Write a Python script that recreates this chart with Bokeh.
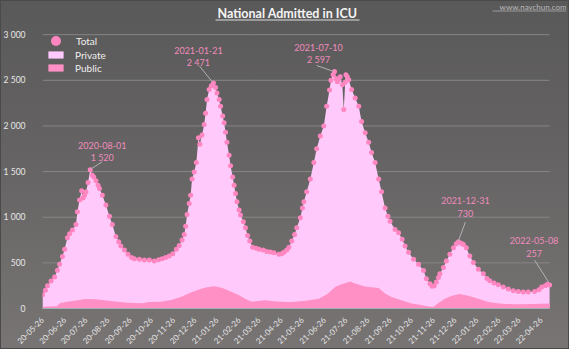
import math
import pandas as pd
from bokeh.plotting import figure
from bokeh.models import (ColumnDataSource, FixedTicker, DatetimeTickFormatter,
                          CustomJSTickFormatter, Legend, LegendItem, Label,
                          BoxAnnotation, Range1d)
from bokeh.embed import file_html
from bokeh.resources import INLINE

FONT = "Lato"

# ---------------- data ----------------
total_dates = [
    "2020-05-26", "2020-05-30", "2020-06-02", "2020-06-07", "2020-06-12", "2020-06-16",
    "2020-06-19", "2020-06-23", "2020-06-26", "2020-06-30", "2020-07-03", "2020-07-07",
    "2020-07-12", "2020-07-14", "2020-07-17", "2020-07-20", "2020-07-22", "2020-07-24",
    "2020-07-26", "2020-07-29", "2020-08-01", "2020-08-04", "2020-08-06", "2020-08-09",
    "2020-08-12", "2020-08-14", "2020-08-18", "2020-08-23", "2020-08-28", "2020-09-01",
    "2020-09-06", "2020-09-10", "2020-09-13", "2020-09-18", "2020-09-23", "2020-09-28",
    "2020-10-02", "2020-10-09", "2020-10-16", "2020-10-23", "2020-10-30", "2020-11-05",
    "2020-11-10", "2020-11-15", "2020-11-20", "2020-11-25", "2020-11-30", "2020-12-04",
    "2020-12-08", "2020-12-11", "2020-12-13", "2020-12-15", "2020-12-18", "2020-12-20",
    "2020-12-22", "2020-12-25", "2020-12-28", "2020-12-31", "2021-01-02", "2021-01-05",
    "2021-01-08", "2021-01-10", "2021-01-12", "2021-01-15", "2021-01-18", "2021-01-21",
    "2021-01-24", "2021-01-26", "2021-01-29", "2021-01-31", "2021-02-03", "2021-02-05",
    "2021-02-07", "2021-02-09", "2021-02-12", "2021-02-14", "2021-02-17", "2021-02-19",
    "2021-02-21", "2021-02-23", "2021-02-26", "2021-02-28", "2021-03-04", "2021-03-07",
    "2021-03-10", "2021-03-13", "2021-03-17", "2021-03-22", "2021-03-26", "2021-04-01",
    "2021-04-06", "2021-04-11", "2021-04-16", "2021-04-23", "2021-04-27", "2021-04-30",
    "2021-05-04", "2021-05-07", "2021-05-11", "2021-05-15", "2021-05-18", "2021-05-23",
    "2021-05-26", "2021-05-28", "2021-06-01", "2021-06-06", "2021-06-11", "2021-06-15",
    "2021-06-20", "2021-06-25", "2021-06-29", "2021-07-03", "2021-07-05", "2021-07-08",
    "2021-07-10", "2021-07-12", "2021-07-14", "2021-07-16", "2021-07-18", "2021-07-21",
    "2021-07-23", "2021-07-25", "2021-07-26", "2021-07-28", "2021-07-30", "2021-08-03",
    "2021-08-08", "2021-08-13", "2021-08-17", "2021-08-22", "2021-08-27", "2021-08-31",
    "2021-09-05", "2021-09-10", "2021-09-14", "2021-09-19", "2021-09-23", "2021-09-26",
    "2021-10-03", "2021-10-08", "2021-10-13", "2021-10-17", "2021-10-22", "2021-10-29",
    "2021-11-05", "2021-11-12", "2021-11-16", "2021-11-21", "2021-11-24", "2021-11-27",
    "2021-11-30", "2021-12-03", "2021-12-05", "2021-12-10", "2021-12-14", "2021-12-19",
    "2021-12-24", "2021-12-28", "2021-12-31", "2022-01-04", "2022-01-07", "2022-01-11",
    "2022-01-16", "2022-01-21", "2022-01-28", "2022-02-04", "2022-02-09", "2022-02-13",
    "2022-02-19", "2022-02-25", "2022-03-04", "2022-03-11", "2022-03-18", "2022-03-25",
    "2022-04-01", "2022-04-08", "2022-04-17", "2022-04-23", "2022-04-27", "2022-05-02",
    "2022-05-05", "2022-05-08",
]
total_values = [
    150, 200, 250, 300, 345, 420,
    486, 570, 650, 775, 820, 860,
    920, 1060, 1190, 1290, 1210, 1240,
    1275, 1380, 1520, 1460, 1440, 1400,
    1350, 1315, 1240, 1135, 1010, 920,
    790, 730, 685, 640, 595, 560,
    545, 540, 530, 530, 520, 535,
    545, 560, 575, 600, 650, 690,
    750, 810, 900, 1030, 1150, 1240,
    1420, 1495, 1600, 1870, 1800, 1900,
    2015, 2140, 2290, 2400, 2440, 2471,
    2420, 2360, 2290, 2215, 2110, 2035,
    1930, 1820, 1680, 1565, 1440, 1350,
    1260, 1170, 1080, 1025, 950, 885,
    800, 740, 670, 660, 650, 640,
    625, 620, 610, 595, 600, 615,
    640, 670, 740, 810, 885, 995,
    1100, 1170, 1280, 1420, 1600, 1750,
    1890, 2000, 2215, 2395, 2500, 2560,
    2597, 2520, 2485, 2510, 2540, 2450,
    2180, 2480, 2560, 2540, 2505, 2400,
    2305, 2215, 2050, 1925, 1820, 1710,
    1600, 1420, 1280, 1100, 1010, 955,
    865, 830, 760, 685, 615, 540,
    485, 415, 325, 270, 245, 250,
    290, 340, 380, 450, 520, 595,
    665, 710, 730, 715, 700, 665,
    575, 505, 430, 380, 330, 305,
    280, 260, 235, 215, 195, 185,
    180, 180, 185, 205, 235, 250,
    265, 257,
]

public_dates = [
    "2020-05-26", "2020-06-05", "2020-06-15", "2020-06-20", "2020-06-30", "2020-07-10",
    "2020-07-25", "2020-08-09", "2020-08-24", "2020-09-08", "2020-09-23", "2020-10-13",
    "2020-10-23", "2020-11-08", "2020-11-24", "2020-12-07", "2020-12-22", "2021-01-03",
    "2021-01-10", "2021-01-22", "2021-01-31", "2021-02-07", "2021-02-16", "2021-02-26",
    "2021-03-07", "2021-03-16", "2021-03-27", "2021-04-04", "2021-04-16", "2021-05-02",
    "2021-05-11", "2021-05-31", "2021-06-18", "2021-06-30", "2021-07-11", "2021-07-20",
    "2021-08-01", "2021-08-09", "2021-08-22", "2021-09-03", "2021-09-10", "2021-09-19",
    "2021-09-28", "2021-10-12", "2021-10-26", "2021-11-07", "2021-11-21", "2021-11-26",
    "2021-12-03", "2021-12-12", "2021-12-22", "2022-01-01", "2022-01-14", "2022-01-28",
    "2022-02-10", "2022-02-20", "2022-03-07", "2022-03-25", "2022-04-16", "2022-05-08",
]
public_values = [
    20, 22, 25, 60, 75, 85,
    105, 100, 88, 75, 62, 58,
    70, 75, 97, 130, 180, 215,
    230, 245, 230, 212, 180, 145,
    105, 75, 85, 90, 80, 72,
    72, 85, 108, 160, 235, 265,
    295, 270, 240, 230, 225, 165,
    126, 90, 55, 40, 20, 18,
    60, 108, 140, 160, 140, 108,
    75, 60, 50, 47, 50, 55,
]

tick_dates = [
    "2020-05-26", "2020-06-26", "2020-07-26", "2020-08-26", "2020-09-26", "2020-10-26",
    "2020-11-26", "2020-12-26", "2021-01-26", "2021-02-26", "2021-03-26", "2021-04-26",
    "2021-05-26", "2021-06-26", "2021-07-26", "2021-08-26", "2021-09-26", "2021-10-26",
    "2021-11-26", "2021-12-26", "2022-01-26", "2022-02-26", "2022-03-26", "2022-04-26",
]
y_ticks = [0, 500, 1000, 1500, 2000, 2500, 3000]

peak_dates = ["2020-08-01", "2021-01-21", "2021-07-10", "2021-12-31", "2022-05-08"]
peak_values = [1520, 2471, 2597, 730, 257]

# ---------------- styles / layout ----------------
C_TOTAL = "#ff86c0"
C_PRIVATE = "#ffcafb"
C_PUBLIC = "#ff90c5"
C_ANNOT = "#f08cbe"

W, H = 569, 349
FR_L = 39            # frame left (data start)
DATA_R = 549         # x pixel of the last date
FR_R = 566           # frame right (extra room for the last annotation)
Y0_PX = 311          # pixel of value 0 (frame bottom)
Y3000_PX = 34.5      # pixel of value 3000

start = pd.Timestamp(total_dates[0])
end = pd.Timestamp(total_dates[-1])
px_per_day = (DATA_R - FR_L) / (end - start).days
val_per_px = 3000 / (Y0_PX - Y3000_PX)
x_end = (end + pd.Timedelta(days=(FR_R - DATA_R) / px_per_day)).floor("s")
y_end = 3000 + Y3000_PX * val_per_px

tdates = pd.to_datetime(total_dates)
pdates = pd.to_datetime(public_dates)

p = figure(width=W, height=H, x_axis_type="datetime",
           x_range=Range1d(start.to_pydatetime(), x_end.to_pydatetime()),
           y_range=Range1d(0, y_end),
           output_backend="svg", toolbar_location=None,
           min_border_left=FR_L, min_border_right=W - FR_R,
           min_border_top=0, min_border_bottom=H - Y0_PX)

p.background_fill_alpha = 0
p.border_fill_alpha = 0
p.outline_line_color = None
p.styles = {"background": "linear-gradient(to bottom, #5a5959 0%, #656363 45%, #787474 100%)",
            "box-shadow": "inset 0 0 0 1px #4a4a4a"}

# grid lines (from the y tick values, spanning the data dates)
p.xgrid.grid_line_color = None
p.ygrid.grid_line_color = None
p.segment(x0=[start] * len(y_ticks), x1=[end] * len(y_ticks), y0=y_ticks, y1=y_ticks,
          line_color="#878585", line_width=1)

# areas + dots
src_t = ColumnDataSource(dict(x=tdates, y=total_values))
src_p = ColumnDataSource(dict(x=pdates, y=public_values))
r_priv = p.varea(x="x", y1=0, y2="y", source=src_t, fill_color=C_PRIVATE)
r_pub = p.varea(x="x", y1=0, y2="y", source=src_p, fill_color=C_PUBLIC)
r_tot = p.scatter(x="x", y="y", source=src_t, size=5, fill_color=C_TOTAL, line_color=None)

# axes
p.xaxis.ticker = FixedTicker(ticks=[pd.Timestamp(d).value // 10**6 for d in tick_dates])
fmt = "%y-%m-%d"
p.xaxis.formatter = DatetimeTickFormatter(days=fmt, months=fmt, years=fmt, hours=fmt,
                                          minutes=fmt, seconds=fmt, milliseconds=fmt,
                                          microseconds=fmt, minsec=fmt, hourmin=fmt,
                                          context=None)
p.xaxis.bounds = (start.value // 10**6, end.value // 10**6)
p.xaxis.major_label_orientation = math.pi / 4
p.xaxis.major_label_text_font = FONT
p.xaxis.major_label_text_font_size = "8px"
p.xaxis.major_label_text_color = "#e4e4e4"
p.xaxis.major_tick_line_color = None
p.xaxis.minor_tick_line_color = None
p.xaxis.axis_line_color = "#9fb4b4"
p.xaxis.major_label_standoff = 4

p.yaxis.ticker = FixedTicker(ticks=y_ticks)
p.yaxis.formatter = CustomJSTickFormatter(
    code="return tick.toString().replace(/\\B(?=(\\d{3})+(?!\\d))/g, ' ');")
p.yaxis.major_label_text_font = FONT
p.yaxis.major_label_text_font_size = "8.5px"
p.yaxis.major_label_text_color = "#e8e8e8"
p.yaxis.major_tick_line_color = None
p.yaxis.minor_tick_line_color = None
p.yaxis.axis_line_color = None
p.yaxis.major_label_standoff = 11

# peak annotations (offsets in pixels, y downwards)
lab_dx = [12, -15, -16, 7, -15.5]
lab_dy_date = [-24.5, -32, -24, -41, -45]
lab_dy_val = [-12.5, -20, -12, -28.5, -32]
lead_a = [(1, -1), (-1, -1), (-1, 0), (0, -1), (-1, -3)]
lead_b = [(12, -8), (-14, -17), (-18, -6), (7, -20), (-15, -25)]

pk_dt = pd.to_datetime(peak_dates)


def shift(d, v, dx, dy):
    return d + pd.Timedelta(days=dx / px_per_day), v - dy * val_per_px


x0s, y0s, x1s, y1s = [], [], [], []
for d, v, a, b in zip(pk_dt, peak_values, lead_a, lead_b):
    xa, ya = shift(d, v, *a)
    xb, yb = shift(d, v, *b)
    x0s.append(xa); y0s.append(ya); x1s.append(xb); y1s.append(yb)
p.segment(x0=x0s, y0=y0s, x1=x1s, y1=y1s, line_color="#b3b3b3", line_width=1)

for d, v, dx, dyd, dyv in zip(pk_dt, peak_values, lab_dx, lab_dy_date, lab_dy_val):
    p.add_layout(Label(x=d, y=v, x_offset=dx, y_offset=-dyd, text=d.strftime("%Y-%m-%d"),
                       text_align="center", text_baseline="middle",
                       text_font=FONT, text_font_size="9px", text_color=C_ANNOT))
    p.add_layout(Label(x=d, y=v, x_offset=dx, y_offset=-dyv, text=f"{v:,}".replace(",", " "),
                       text_align="center", text_baseline="middle",
                       text_font=FONT, text_font_size="9px", text_color=C_ANNOT))

# title & watermark (screen units, relative to frame bottom-left)
p.add_layout(Label(x=284 - FR_L, y=Y0_PX - 16, x_units="screen", y_units="screen",
                   text="National Admitted in ICU", text_align="center",
                   text_baseline="middle", text_font=FONT, text_font_style="bold",
                   text_font_size="12.5px", text_color="#f4f4f4"))
p.add_layout(BoxAnnotation(left=212 - FR_L, right=356 - FR_L,
                           bottom=Y0_PX - 23, top=Y0_PX - 22,
                           left_units="screen", right_units="screen",
                           top_units="screen", bottom_units="screen",
                           fill_color="#dcdcdc", fill_alpha=1, line_color=None))
p.add_layout(Label(x=563 - FR_L, y=Y0_PX - 9, x_units="screen", y_units="screen",
                   text="www.navchun.com", text_align="right", text_baseline="middle",
                   text_font=FONT, text_font_size="8px", text_color="#b9b9b9"))
p.add_layout(BoxAnnotation(left=489 - FR_L, right=563 - FR_L,
                           bottom=Y0_PX - 14, top=Y0_PX - 13,
                           left_units="screen", right_units="screen",
                           top_units="screen", bottom_units="screen",
                           fill_color="#9a9a9a", fill_alpha=1, line_color=None))

# legends (location = bottom-left corner, screen units from frame bottom-left)
leg_common = dict(padding=0, margin=0, background_fill_alpha=0, border_line_color=None,
                  label_text_font=FONT, label_text_font_size="10px",
                  label_text_color="#f0f0f0")
legend_a = Legend(items=[LegendItem(label="Total", renderers=[r_tot])],
                  location=(1, Y0_PX - 56), glyph_width=25, glyph_height=25,
                  label_height=25, spacing=0, label_standoff=8, **leg_common)
legend_b = Legend(items=[LegendItem(label="Private", renderers=[r_priv]),
                         LegendItem(label="Public", renderers=[r_pub])],
                  location=(4, Y0_PX - 77), glyph_width=19, glyph_height=9,
                  label_height=13, spacing=0, label_standoff=10, **leg_common)
p.add_layout(legend_a)
p.add_layout(legend_b)

open("out.html", "w").write(file_html(p, INLINE))
